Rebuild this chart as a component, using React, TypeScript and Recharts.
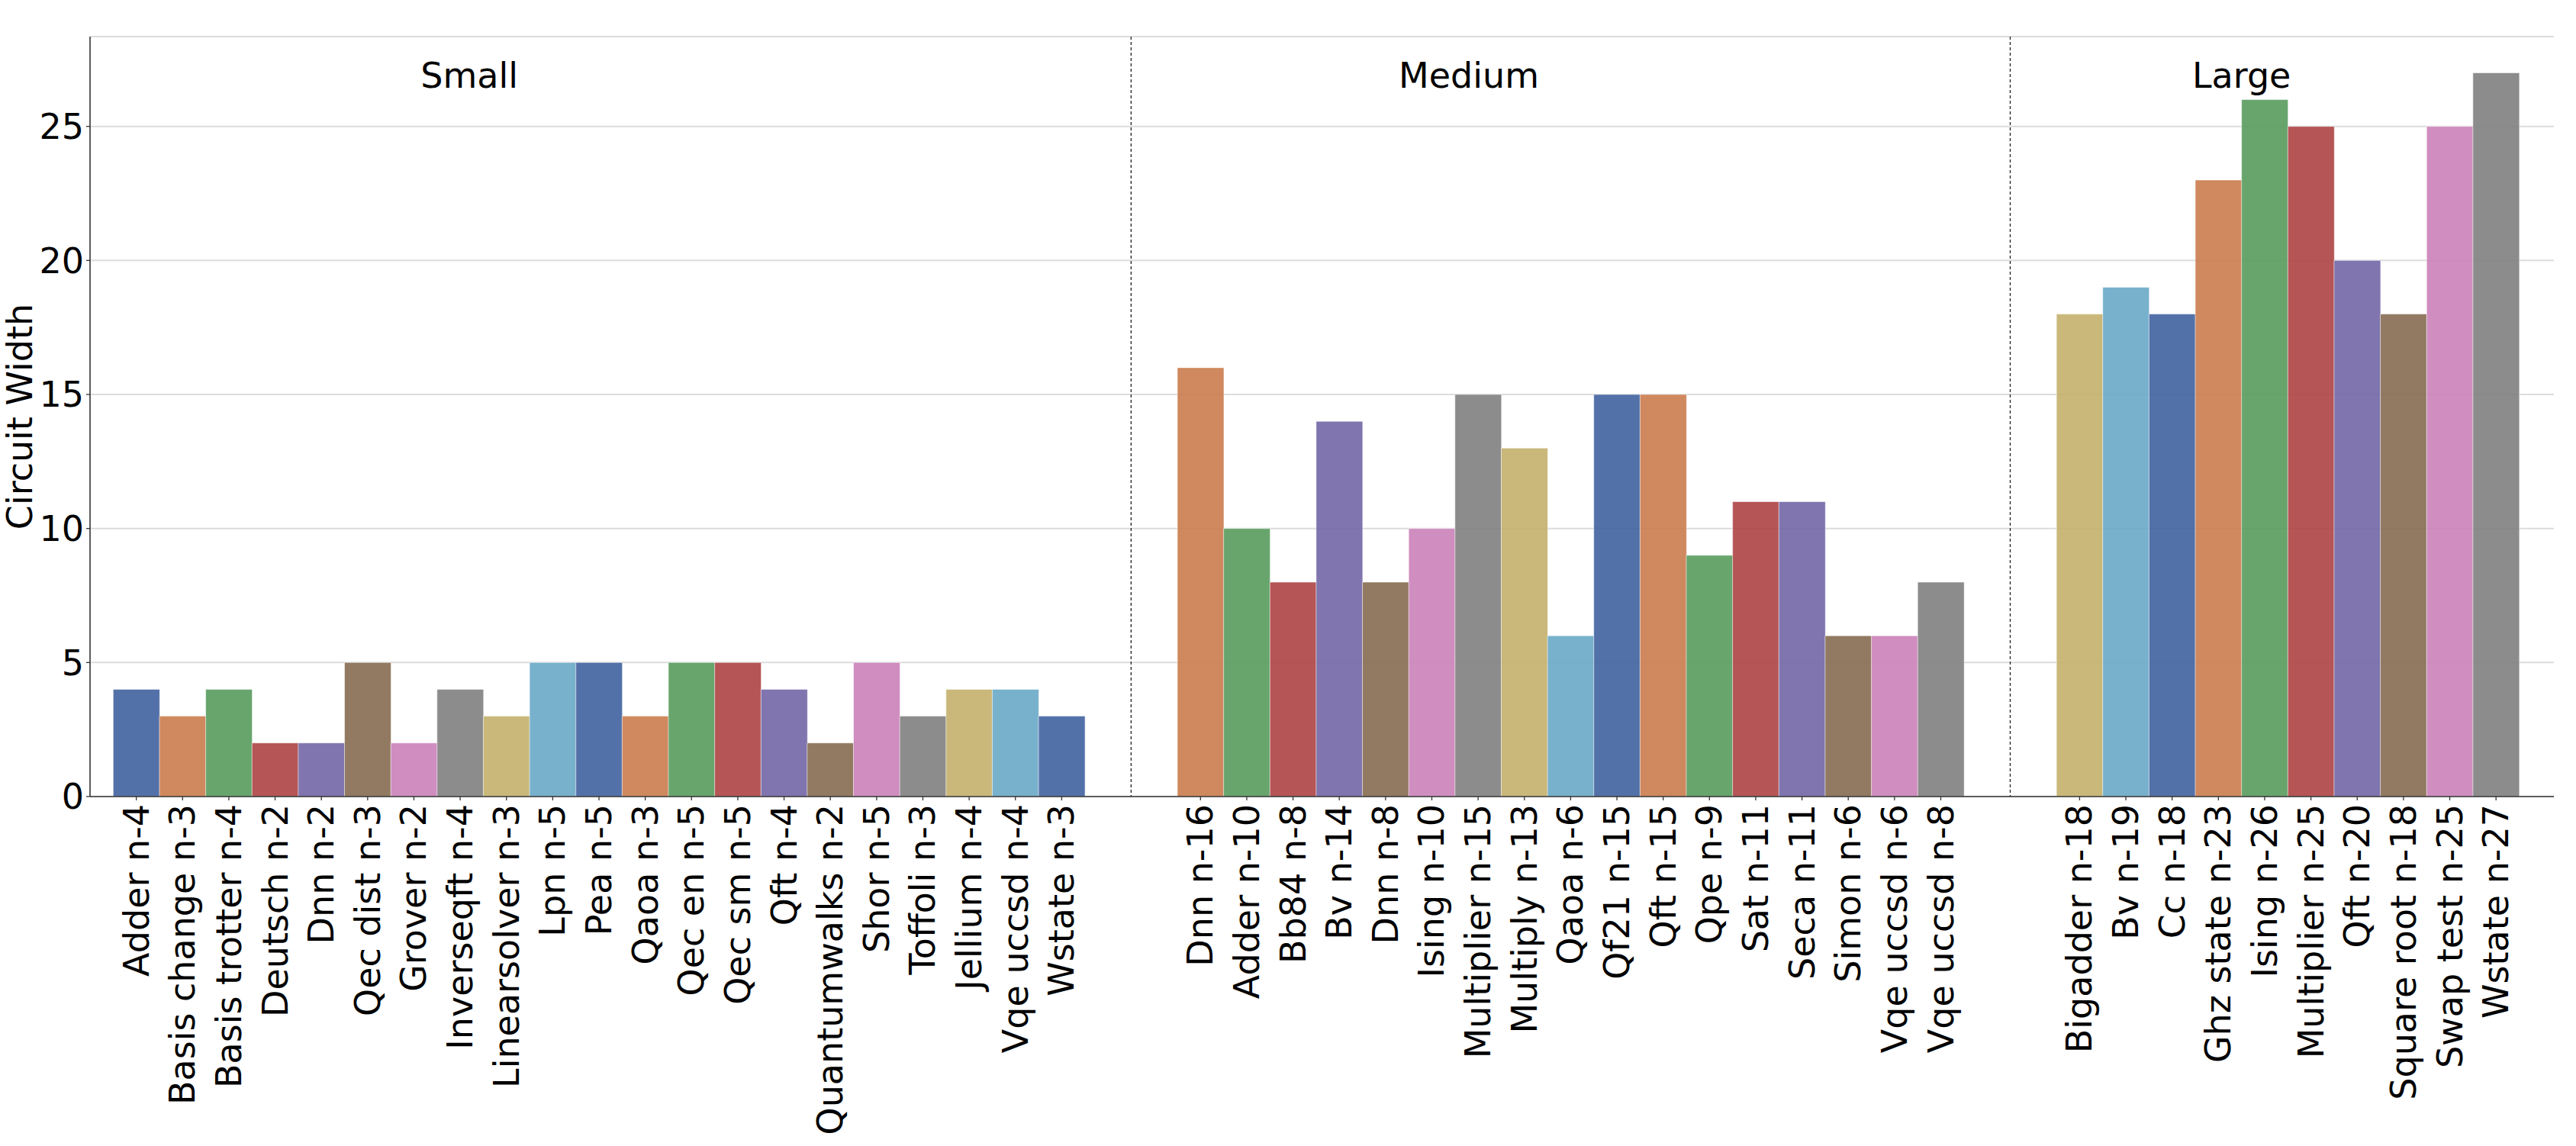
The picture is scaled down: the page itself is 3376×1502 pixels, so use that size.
import React from "react";
import {
  Bar,
  BarChart,
  CartesianGrid,
  Cell,
  ReferenceLine,
  XAxis,
  YAxis,
} from "recharts";

const FONT = "'DejaVu Sans', Verdana, sans-serif";
const FS = 46;

const smallNames = [
  "Adder n-4", "Basis change n-3", "Basis trotter n-4", "Deutsch n-2", "Dnn n-2",
  "Qec dist n-3", "Grover n-2", "Inverseqft n-4", "Linearsolver n-3", "Lpn n-5",
  "Pea n-5", "Qaoa n-3", "Qec en n-5", "Qec sm n-5", "Qft n-4", "Quantumwalks n-2",
  "Shor n-5", "Toffoli n-3", "Jellium n-4", "Vqe uccsd n-4", "Wstate n-3",
];
const smallWidths = [4, 3, 4, 2, 2, 5, 2, 4, 3, 5, 5, 3, 5, 5, 4, 2, 5, 3, 4, 4, 3];

const mediumNames = [
  "Dnn n-16", "Adder n-10", "Bb84 n-8", "Bv n-14", "Dnn n-8", "Ising n-10",
  "Multiplier n-15", "Multiply n-13", "Qaoa n-6", "Qf21 n-15", "Qft n-15", "Qpe n-9",
  "Sat n-11", "Seca n-11", "Simon n-6", "Vqe uccsd n-6", "Vqe uccsd n-8",
];
const mediumWidths = [16, 10, 8, 14, 8, 10, 15, 13, 6, 15, 15, 9, 11, 11, 6, 6, 8];

const largeNames = [
  "Bigadder n-18", "Bv n-19", "Cc n-18", "Ghz state n-23", "Ising n-26",
  "Multiplier n-25", "Qft n-20", "Square root n-18", "Swap test n-25", "Wstate n-27",
];
const largeWidths = [18, 19, 18, 23, 26, 25, 20, 18, 25, 27];

const groupTitles = ["Small", "Medium", "Large"];
const yTicks = [0, 5, 10, 15, 20, 25];

// seaborn-ish deep palette, cycled over bars
const palette = [
  "#4062a0", "#cb7b4c", "#589b5d", "#ad4244", "#7266a6",
  "#856b50", "#cb81b9", "#7f7f7f", "#c4b06d", "#69a9c6",
];

const GAP = 2; // empty slots between groups

type Row = { key: string; label: string; width: number | null; color: string };

const groups = [
  { names: smallNames, widths: smallWidths },
  { names: mediumNames, widths: mediumWidths },
  { names: largeNames, widths: largeWidths },
];

const rows: Row[] = [];
const dividers: number[] = [];
let barIndex = 0;
groups.forEach((g, gi) => {
  if (gi > 0) {
    dividers.push(rows.length - 1 + (GAP + 1) / 2);
    for (let k = 0; k < GAP; k++) {
      rows.push({ key: `gap-${gi}-${k}`, label: "", width: null, color: "none" });
    }
  }
  g.names.forEach((name, i) => {
    rows.push({
      key: name,
      label: name,
      width: g.widths[i],
      color: palette[barIndex % palette.length],
    });
    barIndex++;
  });
});

const labelByKey: Record<string, string> = {};
rows.forEach((r) => (labelByKey[r.key] = r.label));

// title anchors, in slot units (as placed in the original figure)
const titleAnchors = [7.2, 28.8, 45.5];

const X_MIN = -1;
const X_MAX = rows.length + 0.25;
const Y_MAX = 27 * 1.05;

function SlotTick(props: any) {
  const { x, y, payload } = props;
  const label = labelByKey[payload.value];
  if (!label) return null;
  return (
    <g>
      <line x1={x} x2={x} y1={y - 10} y2={y - 5} stroke="#333" strokeWidth={1.3} />
      <text
        x={x}
        y={y}
        transform={`rotate(-90, ${x}, ${y})`}
        textAnchor="end"
        dominantBaseline="central"
        fontSize={FS}
        fontFamily={FONT}
        fill="#000"
      >
        {label}
      </text>
    </g>
  );
}

function YTitle(props: any) {
  const vb = props.viewBox || {};
  const cy = (vb.y || 0) + (vb.height || 0) / 2;
  const cx = 26;
  return (
    <text
      x={cx}
      y={cy}
      transform={`rotate(-90, ${cx}, ${cy})`}
      textAnchor="middle"
      dominantBaseline="central"
      fontSize={FS}
      fontFamily={FONT}
      fill="#000"
    >
      Circuit Width
    </text>
  );
}

export default function App() {
  return (
    <div style={{ width: 3376, height: 1502, background: "#fff" }}>
      <style>{"body{margin:0}"}</style>
      <BarChart
        width={3376}
        height={1502}
        data={rows}
        margin={{ top: 48, right: 29, left: 0, bottom: 0 }}
        barCategoryGap={0}
        barGap={0}
      >
        <CartesianGrid vertical={false} stroke="#dcdcdc" strokeWidth={2} />
        <XAxis
          dataKey="key"
          interval={0}
          height={458}
          padding={{ left: 30.3, right: 45.5 }}
          tick={<SlotTick />}
          tickLine={false}
          tickSize={5}
          tickMargin={5}
          axisLine={{ stroke: "#333", strokeWidth: 1.6 }}
        />
        <XAxis
          xAxisId="num"
          dataKey="num"
          type="number"
          orientation="top"
          domain={[X_MIN, X_MAX]}
          allowDataOverflow
          height={0}
          tick={false}
          tickLine={false}
          axisLine={{ stroke: "#555", strokeWidth: 1.6 }}
        />
        <YAxis
          width={118}
          domain={[0, Y_MAX]}
          ticks={yTicks}
          allowDataOverflow
          tickSize={5}
          tickMargin={3}
          tickLine={{ stroke: "#333", strokeWidth: 1.3 }}
          axisLine={{ stroke: "#333", strokeWidth: 1.6 }}
          tick={{ fontSize: FS, fill: "#000", fontFamily: FONT }}
          label={<YTitle />}
        />
        <YAxis
          yAxisId="right"
          orientation="right"
          width={0}
          domain={[0, Y_MAX]}
          tick={false}
          tickLine={false}
          axisLine={{ stroke: "#555", strokeWidth: 1.6 }}
        />
        <Bar dataKey="width" isAnimationActive={false} stroke="#ffffff" strokeOpacity={0.55} strokeWidth={1}>
          {rows.map((r) => (
            <Cell key={r.key} fill={r.color} fillOpacity={0.9} />
          ))}
        </Bar>
        {dividers.map((d) => (
          <ReferenceLine
            key={`div-${d}`}
            xAxisId="num"
            x={d}
            stroke="#222"
            strokeWidth={1.3}
            strokeDasharray="4 3"
          />
        ))}
        {groupTitles.map((t, i) => (
          <ReferenceLine
            key={t}
            xAxisId="num"
            x={titleAnchors[i]}
            stroke="none"
            label={{
              value: t,
              position: "insideTop",
              offset: 34,
              fontSize: FS,
              fontFamily: FONT,
              fill: "#000",
            }}
          />
        ))}
      </BarChart>
    </div>
  );
}
